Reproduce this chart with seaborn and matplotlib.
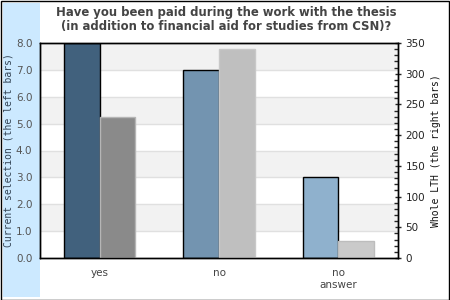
import matplotlib
matplotlib.use("Agg")
import matplotlib.pyplot as plt
import seaborn as sns
import pandas as pd
import numpy as np
from matplotlib.patches import Rectangle
from matplotlib.ticker import MultipleLocator

categories = ["yes", "no", "no\nanswer"]
current_selection = [8.0, 7.0, 3.0]
whole_lth = [229, 340, 28]
left_ticks = [0.0, 1.0, 2.0, 3.0, 4.0, 5.0, 6.0, 7.0, 8.0]
right_ticks = [0, 50, 100, 150, 200, 250, 300, 350]

left_colors = ["#41617d", "#7394b0", "#8fb1cd"]
right_colors = ["#8a8a8a", "#bfbfbf", "#cacaca"]
right_edges = ["#b5b5b5", "#c8c8c8", "#bdbdbd"]

sns.set_style("white")

fig = plt.figure(figsize=(4.5, 3.0), dpi=100)
fig.patch.set_facecolor("white")
# left light blue band (behind axes)
fig.patches.append(Rectangle((3 / 450, 3 / 300), 37 / 450, 294 / 300,
                             transform=fig.transFigure, facecolor="#cce9ff",
                             edgecolor="none", zorder=-5))
# outer border
fig.patches.append(Rectangle((0.5 / 450, 0.5 / 300), 448.5 / 450, 298.5 / 300,
                             transform=fig.transFigure, facecolor="none",
                             edgecolor="black", linewidth=1.0, zorder=-4))

ax = fig.add_axes([40 / 450, 1 - 258 / 300, 358 / 450, 215 / 300])
ax2 = ax.twinx()

# alternating bands
for i in range(8):
    ax.axhspan(i, i + 1, facecolor="#f2f2f2" if i % 2 == 1 else "white",
               edgecolor="none", zorder=0)
for t in left_ticks[1:-1]:
    ax.axhline(t, color="#e0e0e0", linewidth=1.0, zorder=0.5)

df_left = pd.DataFrame({"cat": categories, "series": "current", "value": current_selection})
df_right = pd.DataFrame({"cat": categories, "series": "whole", "value": whole_lth})

sns.barplot(data=df_left, x="cat", y="value", hue="series",
            hue_order=["current", "whole"], order=categories, dodge=True,
            width=0.6, ax=ax, legend=False, zorder=2)
sns.barplot(data=df_right, x="cat", y="value", hue="series",
            hue_order=["current", "whole"], order=categories, dodge=True,
            width=0.6, ax=ax2, legend=False, zorder=2)

lp = [p for p in ax.patches if p.get_height() > 0 and p.get_width() < 0.5]
for p, c in zip(sorted(lp, key=lambda p: p.get_x()), left_colors):
    p.set_facecolor(c)
    p.set_edgecolor("black")
    p.set_linewidth(1.0)
rp = [p for p in ax2.patches if p.get_height() > 0]
for p, c, e in zip(sorted(rp, key=lambda p: p.get_x()), right_colors, right_edges):
    p.set_facecolor(c)
    p.set_edgecolor(e)
    p.set_linewidth(1.0)

ax.set_xlim(-0.5, 2.5)
ax.set_ylim(0, 8)
ax2.set_ylim(0, 350)
ax.set_yticks(left_ticks)
ax.set_yticklabels([f"{t:.1f}" for t in left_ticks], color="#555555", fontsize=7.5)
ax2.set_yticks(right_ticks)
ax2.set_yticklabels([str(t) for t in right_ticks], color="#222222", fontsize=7.5)
ax2.yaxis.set_minor_locator(MultipleLocator(10))
ax.tick_params(axis="y", left=False, labelleft=True, pad=2)
ax.tick_params(axis="x", bottom=False, pad=4, labelsize=7.5, labelcolor="#444444")
ax2.tick_params(axis="y", which="major", direction="inout", length=5, width=1, right=True, pad=3)
ax2.tick_params(axis="y", which="minor", direction="in", length=3, width=1, right=True)
ax.set_xlabel("")
ax2.set_xlabel("")
ax.set_ylabel("Current selection (the left bars)", family="DejaVu Sans Mono",
              fontsize=7, color="#334455")
ax2.set_ylabel("Whole LTH (the right bars)", family="DejaVu Sans Mono",
               fontsize=7, color="#111111")
ax.yaxis.set_label_coords((14 - 40) / 358, 0.5)
ax2.yaxis.set_label_coords((431 - 40) / 358, 0.5)

for a in (ax, ax2):
    for s in a.spines.values():
        s.set_color("black")
        s.set_linewidth(1.0)
        s.set_visible(True)

fig.text(226 / 450, 1 - 19.5 / 300,
         "Have you been paid during the work with the thesis\n(in addition to financial aid for studies from CSN)?",
         ha="center", va="center", fontsize=8.4, fontweight="bold", color="#444444",
         linespacing=1.15)

fig.savefig("out.png", dpi=100)
